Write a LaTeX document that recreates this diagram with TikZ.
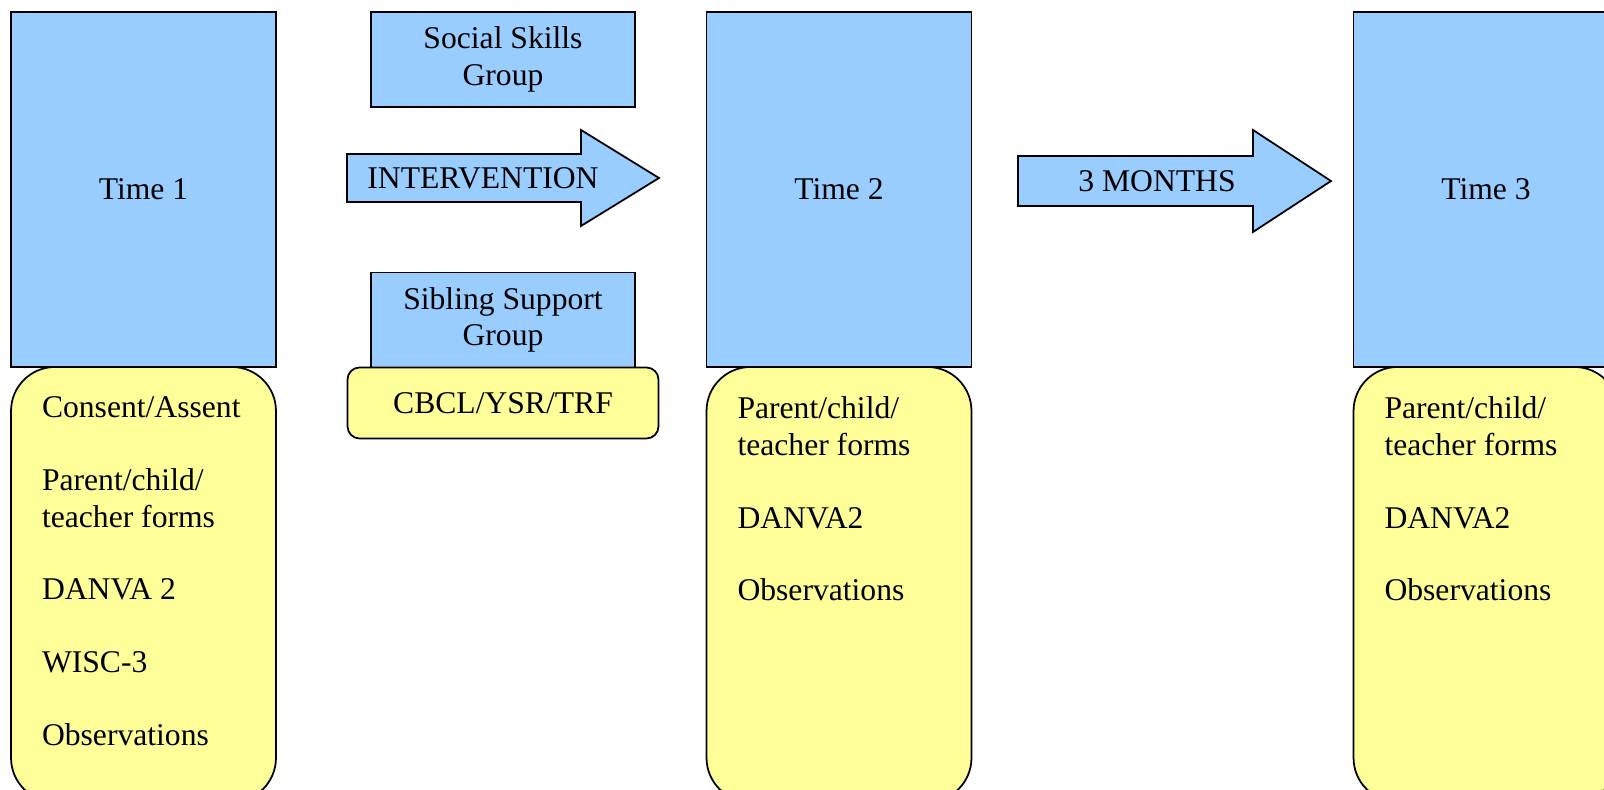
\documentclass[tikz,border=0pt]{standalone}
\usepackage{fontspec}
\setmainfont{Liberation Serif}
\usetikzlibrary{calc}

\definecolor{boxblue}{HTML}{99CCFF}
\definecolor{boxyellow}{HTML}{FFFF99}

\begin{document}
\begin{tikzpicture}[
        x=0.02cm, y=-0.02cm,
        every node/.style={font=\fontsize{18}{20.7}\selectfont, outer sep=0pt},
        timebox/.style={draw, fill=boxblue, line width=1pt, minimum width=5.3cm, minimum height=7.1cm},
        groupbox/.style={draw, fill=boxblue, line width=1pt, align=center, minimum width=5.28cm, minimum height=1.9cm},
        listbox/.style={draw, fill=boxyellow, line width=1pt, rounded corners=0.88cm, minimum width=5.3cm, minimum height=8.7cm},
        items/.style={anchor=north west, align=left, inner sep=0pt},
        bigarrow/.style={draw, fill=boxblue, line width=1pt, line join=miter}
    ]
        \useasboundingbox (0,0) rectangle (1604,790);
        \clip (0,0) rectangle (1604,790);

        % time points
        \node[timebox] (t1) at (143.5,189.5) {Time 1};
        \node[timebox] (t2) at (839,189.5) {Time 2};
        \node[timebox] (t3) at (1486,189.5) {Time 3};

        % measures taken at each time point
        \node[listbox, anchor=north] (m1) at (t1.south) {};
        \node[listbox, anchor=north] (m2) at (t2.south) {};
        \node[listbox, anchor=north] (m3) at (t3.south) {};
        \node[items] (m1text) at ($(m1.north west) + (31,30)$)
            {Consent/Assent\\[20.7pt]Parent/child/\\teacher forms\\[20.7pt]DANVA 2\\[20.7pt]WISC-3\\[20.7pt]Observations};
        \node[items] (m2text) at ($(m2.north west) + (31,30)$)
            {Parent/child/\\teacher forms\\[20.7pt]DANVA2\\[20.7pt]Observations};
        \node[items] (m3text) at ($(m3.north west) + (31,30)$)
            {Parent/child/\\teacher forms\\[20.7pt]DANVA2\\[20.7pt]Observations};

        % intervention groups
        \node[groupbox] (social) at (503,59.5) {Social Skills\\Group};
        \node[groupbox] (sibling) at (503,320) {Sibling Support\\Group};
        \node[draw, fill=boxyellow, line width=1pt, rounded corners=0.24cm,
            minimum width=6.22cm, minimum height=1.42cm, anchor=north] (cbcl) at (sibling.south) {CBCL/YSR/TRF};

        % block arrows between time points
        \draw[bigarrow] (347,154) -- (581,154) -- (581,130) -- (659,178) -- (581,226) -- (581,202) -- (347,202) -- cycle;
        \node (interv) at (483,178) {INTERVENTION};
        \draw[bigarrow] (1018,156) -- (1253,156) -- (1253,130) -- (1331,181) -- (1253,232) -- (1253,206) -- (1018,206) -- cycle;
        \node (months) at (1157,181) {3 MONTHS};
    \end{tikzpicture}
\end{document}
